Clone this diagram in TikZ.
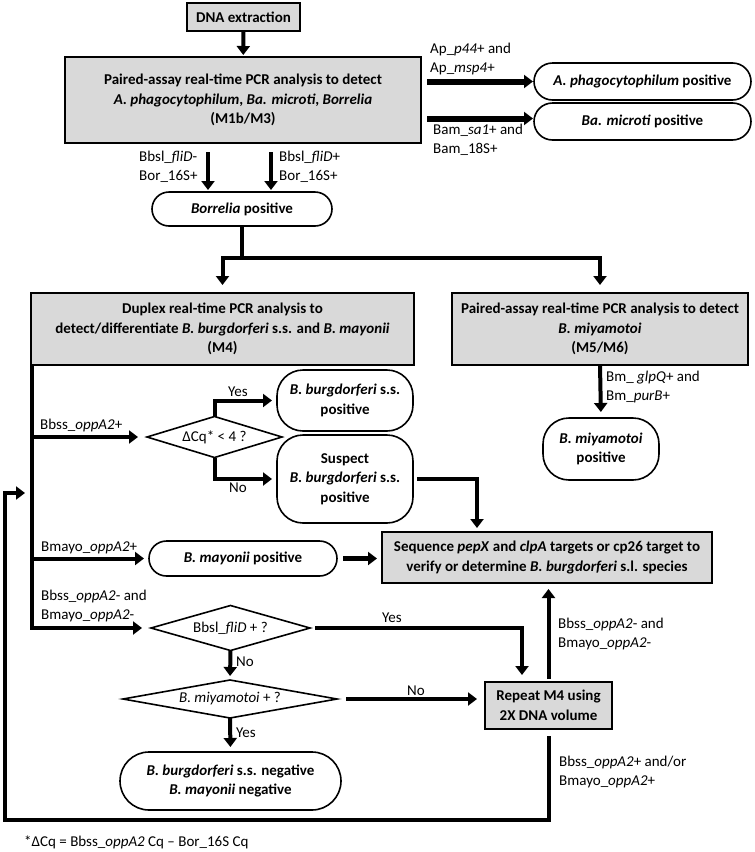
\documentclass[tikz,border=0pt]{standalone}
\usepackage{fontspec}
\setmainfont{Carlito}
\usepackage{tikz}
\usetikzlibrary{arrows.meta,calc,positioning}
\usetikzlibrary{shapes.geometric,shapes.misc}
\definecolor{boxgrey}{HTML}{D9D9D9}

\tikzset{
  greybox/.style={draw, line width=2pt, fill=boxgrey, align=center, inner sep=0pt, outer sep=0pt,
    font=\fontsize{15}{19.5}\selectfont\bfseries},
  pill/.style={draw, line width=1.6pt, rounded rectangle, align=center, inner sep=0pt, outer sep=0pt,
    font=\fontsize{15}{19.5}\selectfont\bfseries},
  rbox/.style={draw, line width=1.6pt, rounded corners=26pt, align=center, inner sep=0pt, outer sep=0pt,
    font=\fontsize{15}{19.5}\selectfont\bfseries},
  decide/.style={draw, diamond, line width=1.6pt, inner sep=0pt, outer sep=0pt,
    font=\fontsize{15}{19}\selectfont},
  conn/.style={line width=4pt, -{Triangle[length=9pt,width=13pt]}, shorten >=5pt},
  lbl/.style={anchor=west, align=left, inner sep=0pt, font=\fontsize{15}{19}\selectfont},
  yn/.style={inner sep=0pt, font=\fontsize{15}{19}\selectfont},
}

\begin{document}
\begin{tikzpicture}[x=1pt,y=-1pt]
\useasboundingbox (0,0) rectangle (755,852);

% screening assay
\node[greybox, minimum width=113pt, minimum height=28pt] (dna) at (243.5,17) {DNA extraction};
\node[greybox, minimum width=356pt, minimum height=86pt] (m1) at (243,100)
  {Paired-assay real-time PCR analysis to detect\\\textit{A. phagocytophilum}, \textit{Ba. microti}, \textit{Borrelia}\\(M1b/M3)};
\node[pill, minimum width=217pt, minimum height=37pt] (ap) at (642.5,81.5) {\textit{A. phagocytophilum} positive};
\node[pill, minimum width=217pt, minimum height=37pt] (bam) at (642.5,121.5) {\textit{Ba. microti} positive};
\node[pill, minimum width=180pt, minimum height=34pt] (bor) at (242,209) {\textit{Borrelia} positive};
\coordinate (bamin) at ([yshift=3pt]bam.west);

\draw[conn, shorten >=2pt] (dna) -- (m1);
\draw[conn, line width=6pt, shorten <=6pt, shorten >=1pt] (m1.east |- ap.west) -- (ap.west);
\draw[conn, line width=6pt, shorten <=6pt, shorten >=1pt] (m1.east |- bamin) -- (bamin);
\draw[conn, shorten <=9pt, shorten >=2pt] ([xshift=-35pt]m1.south) -- ([xshift=-35pt]m1.south |- bor.north);
\draw[conn, shorten <=9pt, shorten >=2pt] ([xshift=28pt]m1.south) -- ([xshift=28pt]m1.south |- bor.north);

\node[lbl] (aplbl) at (430,58.5) {Ap\_\textit{p44}+ and\\Ap\_\textit{msp4}+};
\node[lbl] (bamlbl) at (433,140) {Bam\_\textit{sa1}+ and\\Bam\_18S+};
\node[lbl] (fdmlbl) at (139,167) {Bbsl\_\textit{fliD}-\\Bor\_16S+};
\node[lbl] (fdplbl) at (279,167) {Bbsl\_\textit{fliD}+\\Bor\_16S+};

% species assays
\node[greybox, minimum width=383pt, minimum height=72pt] (m4) at (222.5,329)
  {Duplex real-time PCR analysis to\\detect/differentiate \textit{B. burgdorferi} s.s. and \textit{B. mayonii}\\(M4)};
\node[greybox, minimum width=296pt, minimum height=72pt] (m5) at (600,329)
  {Paired-assay real-time PCR analysis to detect\\\textit{B. miyamotoi}\\(M5/M6)};
\coordinate (splitL) at (m4.north |- 0,258);
\coordinate (splitR) at (m5.north |- 0,258);
\draw[conn, shorten >=8pt] (bor.south) |- (splitL) -- (m4.north);
\draw[conn, shorten >=8pt] (bor.south) |- (splitR) -- (m5.north);

\node[rbox, minimum width=116pt, minimum height=62pt] (mip) at (601,449) {\textit{B. miyamotoi}\\positive};
\draw[conn, shorten >=6pt] (m5.south) -- (mip.north);
\node[lbl] (bmlbl) at (606,386.5) {Bm\_ \textit{glpQ}+ and\\Bm\_\textit{purB}+};

% M4 branches
\coordinate (trunk) at ([xshift=1pt]m4.south west);
\node[decide, aspect=3.3, minimum width=135pt, minimum height=41pt] (dcq) at (214.5,437) {ΔCq* < 4 ?};
\node[rbox, minimum width=136pt, minimum height=61pt] (bbp) at (345,400.5) {\textit{B. burgdorferi} s.s.\\positive};
\node[rbox, minimum width=136pt, minimum height=88pt] (sus) at (345,479) {Suspect\\\textit{B. burgdorferi} s.s.\\positive};
\node[pill, minimum width=188pt, minimum height=35pt] (may) at (243,558.5) {\textit{B. mayonii} positive};
\node[greybox, minimum width=330pt, minimum height=51pt] (seq) at (547,557.5)
  {Sequence \textit{pepX} and \textit{clpA} targets or cp26 target to\\verify or determine \textit{B. burgdorferi} s.l. species};
\node[decide, aspect=3.5, minimum width=159pt, minimum height=45pt] (fld) at (230.5,628) {Bbsl\_\textit{fliD} + ?};
\node[decide, aspect=5.6, minimum width=214pt, minimum height=38pt] (mya) at (230,699) {\textit{B. miyamotoi} + ?};
\node[pill, minimum width=221pt, minimum height=58pt] (neg) at (230.5,781)
  {\textit{B. burgdorferi} s.s. negative\\\textit{B. mayonii} negative};
\node[greybox, minimum width=127pt, minimum height=47pt] (rep) at (548.5,705.5) {Repeat M4 using\\2X DNA volume};

\draw[conn, shorten >=9pt] (trunk) |- (fld.west);
\draw[conn, shorten >=9pt] (trunk |- dcq.west) -- (dcq.west);
\draw[conn] (trunk |- may.west) -- (may.west);
\draw[conn] (dcq.north) |- (bbp.west);
\draw[conn] (dcq.south) |- (sus.west);
\draw[conn, shorten <=4pt, shorten >=4pt] (sus.east) -| ([xshift=-70pt]seq.north);
\draw[conn, line width=5.5pt, shorten <=6pt] (may.east) -- (may.east -| seq.west);
\draw[conn, shorten <=5pt, shorten >=7pt] (fld.east) -| ([xshift=-26.5pt]rep.north);
\draw[conn, shorten >=4pt] (fld.south) -- (mya.north);
\draw[conn, shorten <=9pt, shorten >=8pt] (mya.east) -- (mya.east -| rep.west);
\draw[conn] (mya.south) -- (neg.north);
\draw[conn, shorten <=3pt, shorten >=6pt] (rep.north) -- (rep.north |- seq.south);
\coordinate (loopbot) at (rep.south |- 0,820);
\coordinate (loopleft) at (5,493);
\draw[conn, shorten <=7pt, shorten >=7pt] (rep.south) -- (loopbot) -| (loopleft) -- (loopleft -| trunk);

\node[lbl] (bbsslbl) at (40,425) {Bbss\_\textit{oppA2}+};
\node[yn] (yes1) at (238,392) {Yes};
\node[yn] (no1) at (238,488) {No};
\node[lbl] (maylbl) at (41,548) {Bmayo\_\textit{oppA2}+};
\node[lbl] (neglbl) at (41,606) {Bbss\_\textit{oppA2}- and\\Bmayo\_\textit{oppA2}-};
\node[yn] (yes2) at (392,618) {Yes};
\node[yn, anchor=west] (no2) at (236,662) {No};
\node[yn] (no3) at (416,691) {No};
\node[yn, anchor=west] (yes3) at (236,733) {Yes};
\node[lbl] (uplbl) at (558,634) {Bbss\_\textit{oppA2}- and\\Bmayo\_\textit{oppA2}-};
\node[lbl] (looplbl) at (559,772) {Bbss\_\textit{oppA2}+ and/or\\Bmayo\_\textit{oppA2}+};
\node[lbl] (foot) at (24,842) {*ΔCq = Bbss\_\textit{oppA2} Cq – Bor\_16S Cq};
\end{tikzpicture}
\end{document}
